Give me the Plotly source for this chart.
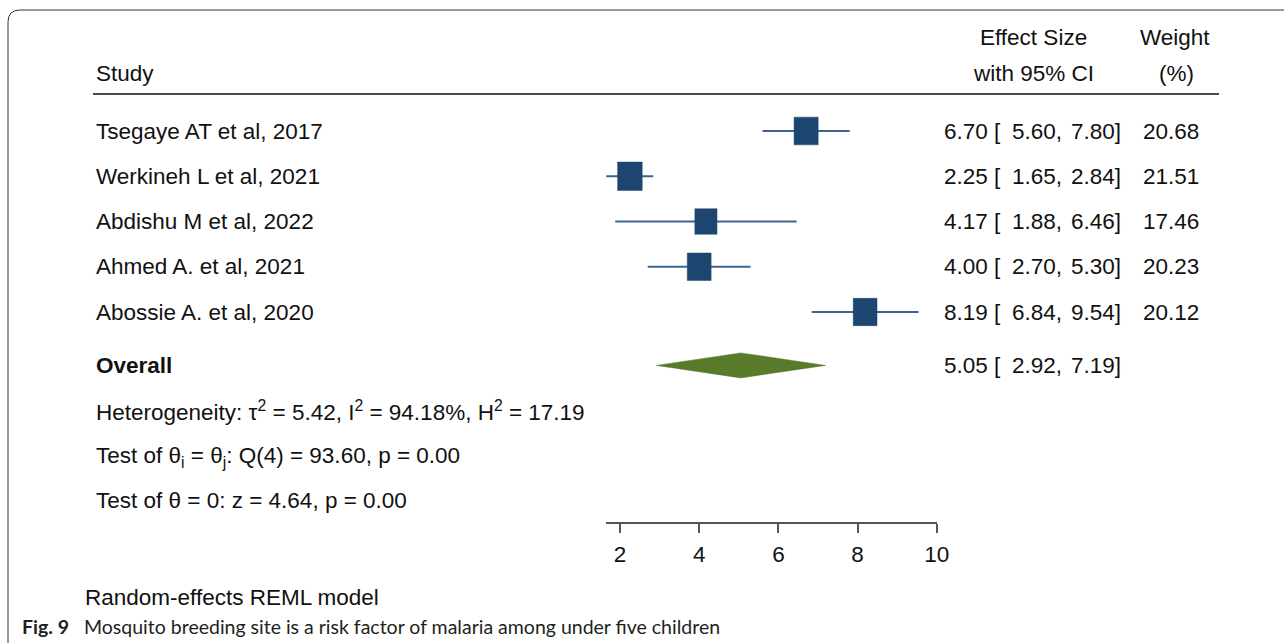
import numpy as np
import plotly.graph_objects as go

# ---- data -------------------------------------------------------------
studies = [
    "Tsegaye AT et al, 2017",
    "Werkineh L et al, 2021",
    "Abdishu M et al, 2022",
    "Ahmed A. et al, 2021",
    "Abossie A. et al, 2020",
]
effect = [6.70, 2.25, 4.17, 4.00, 8.19]
ci_low = [5.60, 1.65, 1.88, 2.70, 6.84]
ci_high = [7.80, 2.84, 6.46, 5.30, 9.54]
weight = [20.68, 21.51, 17.46, 20.23, 20.12]

overall_effect = 5.05
overall_low = 2.92
overall_high = 7.19

x_ticks = [2, 4, 6, 8, 10]

stats_lines = [
    "Heterogeneity: τ<sup>2</sup> = 5.42, I<sup>2</sup> = 94.18%, H<sup>2</sup> = 17.19",
    "Test of θ<sub>i</sub> = θ<sub>j</sub>: Q(4) = 93.60, p = 0.00",
    "Test of θ = 0: z = 4.64, p = 0.00",
]
model_note = "Random-effects REML model"
caption_label = "<b>Fig. 9</b>"
caption_text = "Mosquito breeding site is a risk factor of malaria among under five children"

# ---- layout constants (pixels) ---------------------------------------
W, H = 1284, 643
ROW0, ROW_STEP = 131, 45.25          # first study row and row spacing
PX_PER_UNIT, X_FIRST_TICK_PX = 39.6, 620
AXIS_Y_PX = 523
FONT = "Liberation Sans, Arial, sans-serif"
FS = 22.5
TXT = "#111111"
SQ_COLOR, CI_COLOR, DIA_COLOR = "#1c4670", "#3d6591", "#587a2a"
SQ_W, SQ_H = 5.3, 6.1                # square side per sqrt(weight)

x_min = min(ci_low)
x_max = max(x_ticks)
dom_left = X_FIRST_TICK_PX - (x_ticks[0] - x_min) * PX_PER_UNIT
dom_right = X_FIRST_TICK_PX + (x_max - x_ticks[0]) * PX_PER_UNIT

n = len(studies)
rows = list(range(n))
overall_row = n + 0.18

fig = go.Figure()

# confidence-interval whiskers
cx, cy = [], []
for r, lo, hi in zip(rows, ci_low, ci_high):
    cx += [lo, hi, None]
    cy += [r, r, None]
fig.add_trace(go.Scatter(x=cx, y=cy, mode="lines",
                         line=dict(color=CI_COLOR, width=2),
                         hoverinfo="skip", showlegend=False))

# weighted squares
for r, e, w in zip(rows, effect, weight):
    hw = SQ_W * np.sqrt(w) / 2 / PX_PER_UNIT
    hh = SQ_H * np.sqrt(w) / 2 / ROW_STEP
    fig.add_trace(go.Scatter(
        x=[e - hw, e + hw, e + hw, e - hw, e - hw],
        y=[r - hh, r - hh, r + hh, r + hh, r - hh],
        mode="lines", fill="toself", fillcolor=SQ_COLOR,
        line=dict(color=SQ_COLOR, width=0.5),
        hoverinfo="skip", showlegend=False))

# pooled-estimate diamond
dh = 12.5 / ROW_STEP
fig.add_trace(go.Scatter(
    x=[overall_low, overall_effect, overall_high, overall_effect, overall_low],
    y=[overall_row, overall_row - dh, overall_row, overall_row + dh, overall_row],
    mode="lines", fill="toself", fillcolor=DIA_COLOR,
    line=dict(color=DIA_COLOR, width=0.5),
    hoverinfo="skip", showlegend=False))

ann = []


def txt(x_px, y, text, anchor="left", yref="y", size=FS, family=FONT, color=TXT):
    ann.append(dict(x=x_px / W, xref="paper", y=y, yref=yref, text=text,
                    showarrow=False, xanchor=anchor, yanchor="middle",
                    font=dict(family=family, size=size, color=color)))


def py(px):
    return 1 - px / H


# headers
txt(94, py(73), "Study", yref="paper")
txt(1033, py(37), "Effect Size", anchor="center", yref="paper")
txt(1033, py(73), "with 95% CI", anchor="center", yref="paper")
txt(1175, py(37), "Weight", anchor="center", yref="paper")
txt(1176, py(73), "(%)", anchor="center", yref="paper")


def ci_cells(r, e, lo, hi):
    # estimate + opening bracket, lower bound, upper bound as aligned columns
    txt(942, r, f"{e:.2f} [")
    txt(1064, r, f"{lo:.2f},", anchor="right")
    txt(1123, r, f"{hi:.2f}]", anchor="right")


# study rows
for r, s, e, lo, hi, w in zip(rows, studies, effect, ci_low, ci_high, weight):
    txt(94, r, s)
    ci_cells(r, e, lo, hi)
    txt(1201, r, f"{w:.2f}", anchor="right")

# overall row
txt(94, overall_row, "<b>Overall</b>")
ci_cells(overall_row, overall_effect, overall_low, overall_high)

# heterogeneity statistics
for y_px, line in zip([411, 457, 500], stats_lines):
    txt(94, py(y_px), line, yref="paper")

txt(83, py(597), model_note, yref="paper")
CAP_FONT = "Lato, Noto Sans, sans-serif"
txt(20, py(626), caption_label, yref="paper", size=19.5, family=CAP_FONT, color="#231f20")
txt(82, py(626), caption_text, yref="paper", size=19.5, family=CAP_FONT, color="#231f20")

shapes = [
    # rule under the column headers
    dict(type="line", xref="paper", yref="paper", x0=93 / W, x1=1219 / W,
         y0=py(94), y1=py(94), line=dict(color="#4a4a4a", width=2)),
    # rounded frame (top-left corner)
    dict(type="path", xref="paper", yref="paper",
         path=(f"M {8 / W},0 L {8 / W},{py(22)} "
               f"Q {8 / W},{py(10)} {20 / W},{py(10)} L 1,{py(10)}"),
         line=dict(color="#333333", width=1)),
]

fig.update_layout(
    width=W, height=H, autosize=False,
    margin=dict(l=0, r=0, t=0, b=0, pad=0, autoexpand=False),
    paper_bgcolor="white", plot_bgcolor="white",
    showlegend=False,
    annotations=ann, shapes=shapes,
    xaxis=dict(domain=[dom_left / W, dom_right / W], range=[x_min, x_max],
               anchor="free", position=py(AXIS_Y_PX),
               showline=True, linecolor="#555555", linewidth=1.5,
               ticks="outside", ticklen=9, tickwidth=1.5, tickcolor="#555555",
               tickvals=x_ticks, tickfont=dict(family=FONT, size=FS, color=TXT),
               ticklabelstandoff=2, automargin=False,
               showgrid=False, zeroline=False, fixedrange=True),
    yaxis=dict(domain=[0, 1], range=[(H - ROW0) / ROW_STEP, -ROW0 / ROW_STEP],
               visible=False, fixedrange=True, automargin=False),
)

fig.write_html("out.html")
